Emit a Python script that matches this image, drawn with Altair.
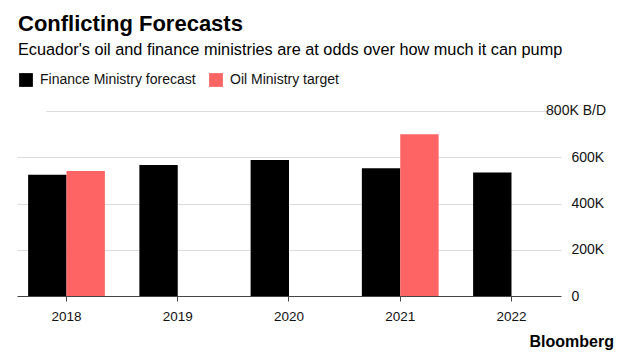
import altair as alt
import pandas as pd

years = ["2018", "2019", "2020", "2021", "2022"]
finance = [524000, 566000, 588000, 552000, 534000]
oil = [541000, None, None, 700000, None]
series = ["Finance Ministry forecast", "Oil Ministry target"]
colors = ["#000000", "#ff6464"]
top_val = [800000]
y_ticks = [0, 200000, 400000, 600000, 800000]

title = "Conflicting Forecasts"
subtitle = "Ecuador's oil and finance ministries are at odds over how much it can pump"
source = "Bloomberg"
unit_label = "800K B/D"

rows = []
for yr, f, o in zip(years, finance, oil):
    rows.append({"year": yr, "series": series[0], "value": f})
    if o is not None:
        rows.append({"year": yr, "series": series[1], "value": o})
df = pd.DataFrame(rows)

FONT = "Liberation Sans"
W, H = 544, 185

yscale = alt.Scale(domain=[0, 800000], nice=False)
yaxis = alt.Axis(orient="right", title=None, values=y_ticks,
                 grid=True, gridColor="#dcdcdc", gridWidth=1,
                 gridOpacity={"condition": {"test": "datum.value == 0", "value": 0}, "value": 1},
                 gridDash={"condition": {"test": "datum.value == 800000", "value": [515, 200]}, "value": []},
                 domain=False, ticks=False, labelPadding=10,
                 labelFontSize=14, labelFont=FONT, labelColor="#111",
                 labelAlign="left",
                 labelExpr="datum.value == 800000 ? '' : (datum.value == 0 ? '0' : (datum.value/1000) + 'K')")

def yenc(field):
    return alt.Y(field, scale=yscale, axis=yaxis)

bars = alt.Chart(df).mark_bar().encode(
    x=alt.X("year:N", sort=years,
            scale=alt.Scale(paddingInner=0.31, paddingOuter=0.1),
            axis=alt.Axis(title=None, labelAngle=0, labelFontSize=13.5, labelFont=FONT,
                          labelColor="#111", domainColor="#444", tickColor="#444",
                          tickSize=5, labelPadding=8, grid=False)),
    xOffset=alt.XOffset("series:N", scale=alt.Scale(domain=series)),
    y=yenc("value:Q"),
    color=alt.Color("series:N", scale=alt.Scale(domain=series, range=colors),
                    legend=alt.Legend(title=None, orient="none", legendX=2, legendY=-38,
                                      direction="horizontal", symbolType="square",
                                      symbolSize=190, symbolStrokeWidth=0,
                                      labelFontSize=14, labelFont=FONT, labelColor="#111",
                                      labelOffset=7, columnPadding=13, padding=0)),
)

top_label = alt.Chart(pd.DataFrame({"value": top_val, "t": [unit_label]})).mark_text(
    align="right", baseline="middle", fontSize=14, font=FONT, color="#111"
).encode(
    y=yenc("value:Q"),
    x=alt.value(589), text="t:N",
)

def label(txt, x, y, size, weight="normal", align="left"):
    return alt.Chart(pd.DataFrame({"t": [txt]})).mark_text(
        align=align, baseline="alphabetic", fontSize=size, font=FONT,
        fontWeight=weight, color="#000"
    ).encode(text="t:N", x=alt.value(x), y=alt.value(y))

t1 = label(title, 1, -80, 22, "bold")
t2 = label(subtitle, 1, -56, 16.3)
t3 = label(source, 597, 236, 16, "bold", "right")

chart = alt.layer(bars, top_label, t1, t2, t3).properties(
    width=W, height=H,
    background="white",
    view=alt.ViewBackground(stroke="transparent", strokeWidth=0),
    autosize=alt.AutoSizeParams(type="none"),
    padding={"left": 17, "top": 111, "right": 69, "bottom": 58},
).configure_view(stroke="transparent", strokeWidth=0)

chart.save("out.html", embed_options={"renderer": "svg", "actions": False})
